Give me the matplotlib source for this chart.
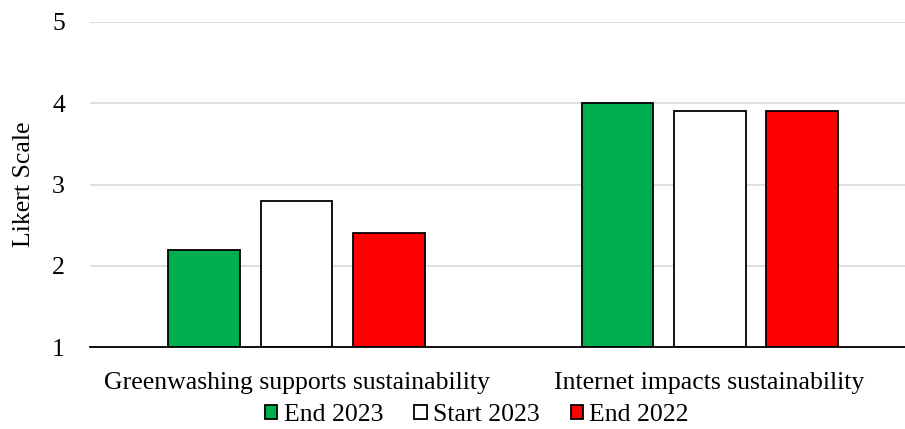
import matplotlib
matplotlib.use("Agg")
import matplotlib.pyplot as plt
import numpy as np

categories = ["Greenwashing supports sustainability", "Internet impacts sustainability"]
series_names = ["End 2023", "Start 2023", "End 2022"]
end_2023 = [2.2, 4.0]
start_2023 = [2.8, 3.9]
end_2022 = [2.4, 3.9]
colors = ["#00B050", "#FFFFFF", "#FF0000"]

plt.rcParams["font.family"] = ["Liberation Serif", "DejaVu Serif"]
FS = 18.5

fig = plt.figure(figsize=(9.05, 4.29), dpi=100)
ax = fig.add_axes([90 / 905, 82 / 429, 815 / 905, 325 / 429])

x = np.arange(len(categories))
width = 0.174
step = 0.223
for i, (name, vals) in enumerate(zip(series_names, [end_2023, start_2023, end_2022])):
    ax.bar(x + (i - 1) * step, np.array(vals) - 1, bottom=1, width=width,
           color=colors[i], edgecolor="black", linewidth=1.3, label=name, zorder=3)

ax.set_ylim(1, 5)
ax.set_xlim(-0.5, 1.473)
ax.set_yticks([1, 2, 3, 4, 5])
ax.set_xticks(x)
ax.set_xticklabels(categories)
ax.grid(axis="y", color="#D9D9D9", linewidth=1.2, zorder=0)
for s in ["top", "right", "left"]:
    ax.spines[s].set_visible(False)
ax.spines["bottom"].set_color("black")
ax.spines["bottom"].set_linewidth(1.3)
ax.spines["bottom"].set_zorder(4)
ax.tick_params(axis="both", length=0, labelsize=FS)
ax.tick_params(axis="y", pad=18)
ax.tick_params(axis="x", pad=18)
ax.set_ylabel("Likert Scale", fontsize=FS, labelpad=12)

handles, labels = ax.get_legend_handles_labels()
fig.legend(handles, labels, loc="center", bbox_to_anchor=(0.527, 14 / 429), ncol=3,
           frameon=False, fontsize=FS, handlelength=0.48, handleheight=0.48,
           handletextpad=0.25, columnspacing=1.2, borderaxespad=0, borderpad=0)

fig.savefig("out.png", dpi=100)
